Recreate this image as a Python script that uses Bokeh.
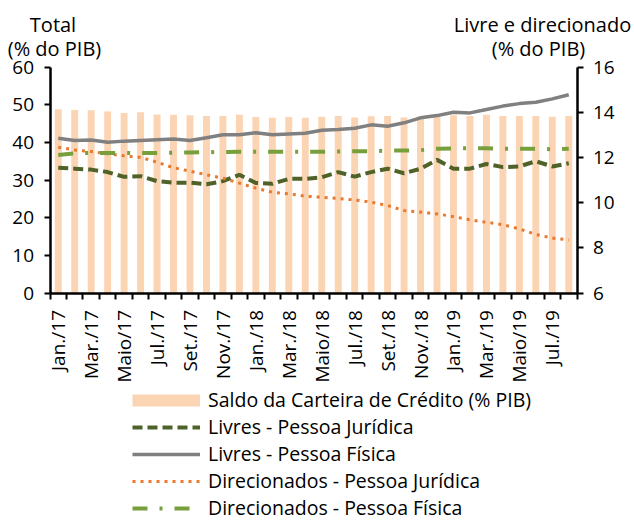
import math
import numpy as np
from bokeh.plotting import figure
from bokeh.models import (Range1d, LinearAxis, FixedTicker, Legend, LegendItem, Label)
from bokeh.embed import file_html
from bokeh.resources import INLINE

# ---------------- data ----------------
months = ["Jan./17", "Fev./17", "Mar./17", "Abr./17", "Maio/17", "Jun./17", "Jul./17", "Ago./17",
          "Set./17", "Out./17", "Nov./17", "Dez./17", "Jan./18", "Fev./18", "Mar./18", "Abr./18",
          "Maio/18", "Jun./18", "Jul./18", "Ago./18", "Set./18", "Out./18", "Nov./18", "Dez./18",
          "Jan./19", "Fev./19", "Mar./19", "Abr./19", "Maio/19", "Jun./19", "Jul./19", "Ago./19"]

saldo_total = [48.8, 48.6, 48.5, 48.2, 47.8, 48.0, 47.4, 47.3, 47.2, 47.0, 47.0, 47.3,
               46.7, 46.5, 46.7, 46.5, 46.8, 47.0, 46.6, 46.9, 47.0, 46.6, 46.9, 47.2,
               47.2, 47.0, 47.3, 47.0, 47.0, 47.0, 46.8, 47.0]

livres_pj = [11.54, 11.50, 11.46, 11.35, 11.14, 11.17, 10.95, 10.88, 10.88, 10.81, 10.95, 11.23,
             10.87, 10.83, 11.05, 11.05, 11.12, 11.35, 11.15, 11.35, 11.50, 11.30, 11.50, 11.89,
             11.50, 11.50, 11.71, 11.57, 11.60, 11.83, 11.60, 11.74]

livres_pf = [12.85, 12.75, 12.77, 12.67, 12.72, 12.75, 12.78, 12.81, 12.75, 12.87, 13.00, 13.00,
             13.09, 13.00, 13.04, 13.07, 13.20, 13.23, 13.29, 13.44, 13.38, 13.53, 13.75, 13.85,
             14.00, 13.97, 14.12, 14.27, 14.38, 14.44, 14.59, 14.77]

direc_pj = [12.45, 12.33, 12.26, 12.16, 12.07, 12.00, 11.79, 11.54, 11.39, 11.23, 11.08, 10.86,
            10.64, 10.46, 10.39, 10.28, 10.24, 10.18, 10.12, 10.02, 9.87, 9.65, 9.58, 9.50,
            9.38, 9.24, 9.13, 9.02, 8.84, 8.59, 8.43, 8.35]

direc_pf = [12.11, 12.18, 12.20, 12.20, 12.20, 12.20, 12.20, 12.21, 12.22, 12.23, 12.24, 12.25,
            12.25, 12.25, 12.25, 12.25, 12.25, 12.26, 12.27, 12.27, 12.30, 12.30, 12.32, 12.38,
            12.40, 12.40, 12.40, 12.38, 12.38, 12.38, 12.36, 12.38]

left_ticks = [0, 10, 20, 30, 40, 50, 60]
right_ticks = [6, 8, 10, 12, 14, 16]

left_title = ["Total", "(% do PIB)"]
right_title = ["Livre e direcionado", "(% do PIB)"]

legend_labels = ["Saldo da Carteira de Crédito (% PIB)", "Livres - Pessoa Jurídica",
                 "Livres - Pessoa Física", "Direcionados - Pessoa Jurídica",
                 "Direcionados - Pessoa Física"]

# ---------------- styling / geometry ----------------
FONT = "Open Sans"
FS_TICK = "19px"
FS_TEXT = "20px"
BAR_C = "#FBD4B4"
PJ_C = "#4F6228"
PF_C = "#808080"
DPJ_C = "#E8792E"
DPF_C = "#77A03C"

W, H = 634, 521
# plot box (pixels on the canvas) where the axes sit
PX_L, PX_R, PX_T, PX_B = 49.5, 576.5, 66.5, 292.5
N = len(months)
L_MIN, L_MAX = left_ticks[0], left_ticks[-1]
R_MIN, R_MAX = right_ticks[0], right_ticks[-1]

xs = (PX_R - PX_L) / N                 # px per category
ys = (PX_B - PX_T) / (L_MAX - L_MIN)   # px per left unit
rs = (PX_B - PX_T) / (R_MAX - R_MIN)   # px per right unit

x_lo = -0.5 - PX_L / xs
x_hi = N - 0.5 + (W - PX_R) / xs
y_lo = L_MIN - (H - PX_B) / ys
y_hi = L_MAX + PX_T / ys
r_lo = R_MIN - (H - PX_B) / rs
r_hi = R_MAX + PX_T / rs

def dx(px):
    return x_lo + px / xs

def dy(py):
    return y_hi - py / ys

x = np.arange(N)

p = figure(width=W, height=H, output_backend="svg", toolbar_location=None,
           x_range=Range1d(x_lo, x_hi), y_range=Range1d(y_lo, y_hi),
           min_border=0, x_axis_type=None, y_axis_type=None)
p.outline_line_color = None
p.xgrid.visible = False
p.ygrid.visible = False
p.extra_y_ranges = {"r": Range1d(r_lo, r_hi)}

def style_axis(ax):
    ax.axis_line_color = "black"
    ax.axis_line_width = 2.5
    ax.major_tick_line_color = "black"
    ax.major_tick_line_width = 2
    ax.major_tick_in = 0
    ax.major_tick_out = 6
    ax.minor_tick_line_color = None
    ax.major_label_text_font = FONT
    ax.major_label_text_font_size = FS_TICK
    ax.major_label_text_color = "black"

left = LinearAxis(ticker=FixedTicker(ticks=left_ticks), bounds=(L_MIN, L_MAX),
                  fixed_location=-0.5)
style_axis(left)
left.major_label_standoff = 10
p.add_layout(left, "left")

right = LinearAxis(y_range_name="r", ticker=FixedTicker(ticks=right_ticks),
                   bounds=(R_MIN, R_MAX), fixed_location=N - 0.5)
style_axis(right)
right.major_label_standoff = 10
p.add_layout(right, "right")

label_idx = list(range(0, N, 2))
bottom = LinearAxis(ticker=FixedTicker(ticks=label_idx,
                                       minor_ticks=[i - 0.5 for i in range(N + 1)]),
                    bounds=(-0.5, N - 0.5), fixed_location=L_MIN)
style_axis(bottom)
bottom.major_tick_line_color = None
bottom.minor_tick_line_color = "black"
bottom.minor_tick_line_width = 2
bottom.minor_tick_out = 6
bottom.minor_tick_in = 0
bottom.major_label_overrides = {i: months[i] for i in label_idx}
bottom.major_label_orientation = math.pi / 2
bottom.major_label_standoff = 11
p.add_layout(bottom, "below")

# bars
p.vbar(x=x, top=saldo_total, width=0.42, fill_color=BAR_C, line_color=None)

# lines on right axis
r_pj = p.line(x, livres_pj, y_range_name="r", line_color=PJ_C, line_width=4, line_dash="10 5")
r_pf = p.line(x, livres_pf, y_range_name="r", line_color=PF_C, line_width=3.5)
r_dpj = p.line(x, direc_pj, y_range_name="r", line_color=DPJ_C, line_width=3, line_dash="3 5")
r_dpf = p.line(x, direc_pf, y_range_name="r", line_color=DPF_C, line_width=4, line_dash="15 12 3 12")

# legend swatch proxy for the bars: a thick band (one NaN point, so nothing is drawn in the plot)
bar_swatch = p.line(x=[np.nan], y=[np.nan], line_color=BAR_C, line_width=12)

legend = Legend(items=[LegendItem(label=legend_labels[0], renderers=[bar_swatch]),
                       LegendItem(label=legend_labels[1], renderers=[r_pj]),
                       LegendItem(label=legend_labels[2], renderers=[r_pf]),
                       LegendItem(label=legend_labels[3], renderers=[r_dpj]),
                       LegendItem(label=legend_labels[4], renderers=[r_dpf])],
                location=(132, 0))
legend.padding = 0
legend.margin = 0
legend.spacing = 0
legend.glyph_width = 68
legend.glyph_height = 20
legend.label_height = 20
legend.label_standoff = 8
legend.label_text_font = FONT
legend.label_text_font_size = "19.5px"
legend.label_text_color = "black"
legend.border_line_color = None
legend.background_fill_alpha = 0
p.add_layout(legend)

# axis titles
for (txt, cx, base) in [(left_title[0], 52.5, 24), (left_title[1], 54, 48),
                        (right_title[0], 542, 24), (right_title[1], 538, 48)]:
    p.add_layout(Label(x=dx(cx), y=dy(base), text=txt, text_align="center",
                       text_baseline="alphabetic", text_font=FONT,
                       text_font_size=FS_TEXT, text_color="black"))

open("out.html", "w").write(file_html(p, INLINE))
